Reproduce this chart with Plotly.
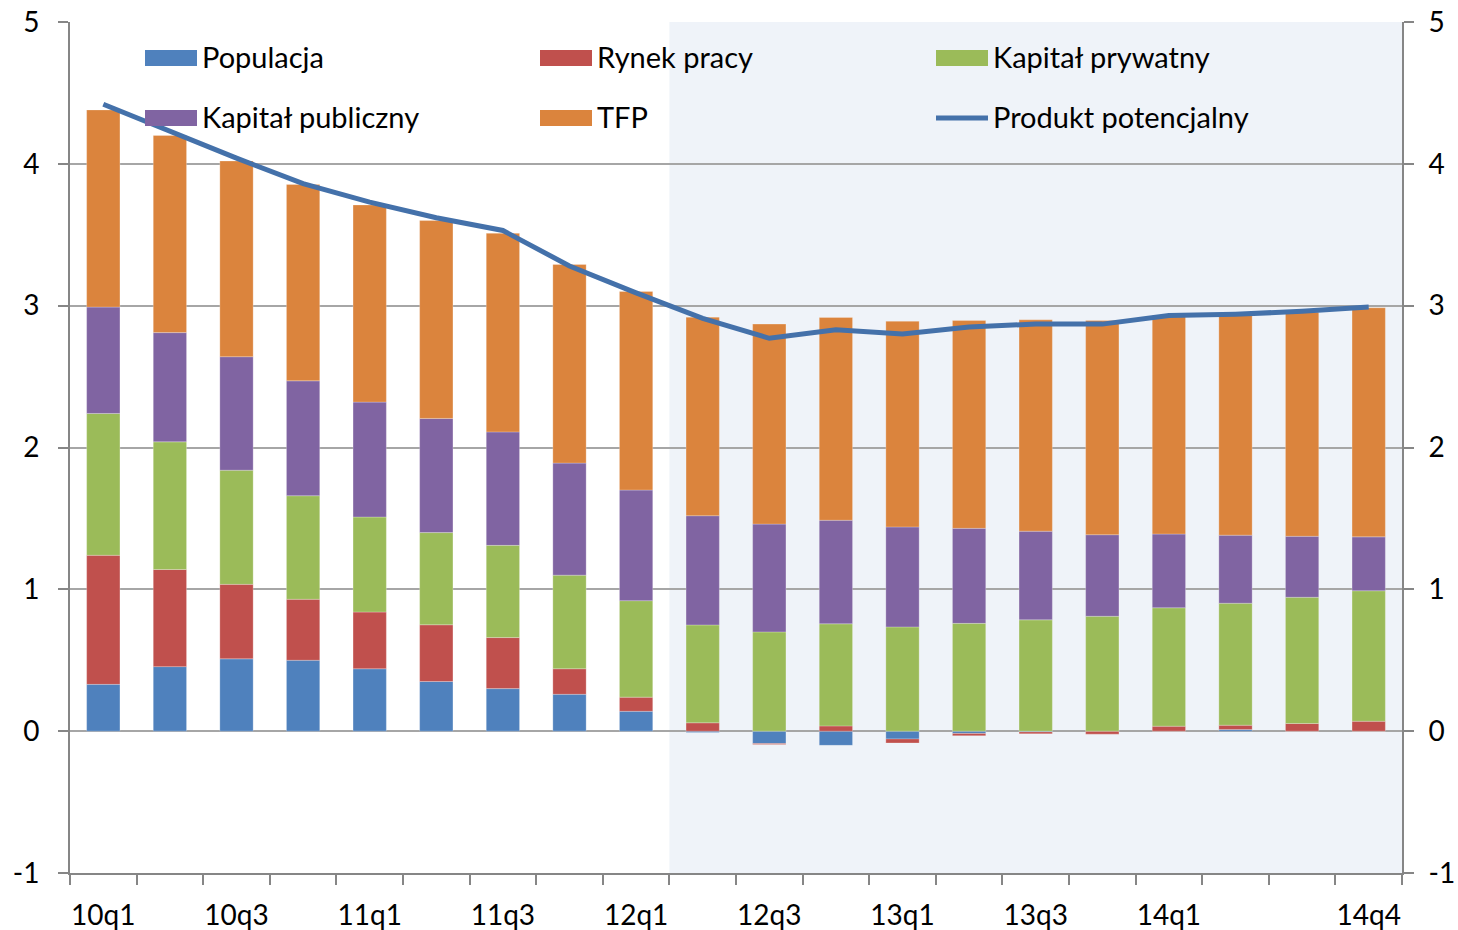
import plotly.graph_objects as go

categories = ['10q1', '10q2', '10q3', '10q4', '11q1', '11q2', '11q3', '11q4',
              '12q1', '12q2', '12q3', '12q4', '13q1', '13q2', '13q3', '13q4',
              '14q1', '14q2', '14q3', '14q4']
tick_labels = ['10q1', '', '10q3', '', '11q1', '', '11q3', '', '12q1', '',
               '12q3', '', '13q1', '', '13q3', '', '14q1', '', '', '14q4']
y_tick_vals = [-1, 0, 1, 2, 3, 4, 5]
y_tick_text = ['-1', '0', '1', '2', '3', '4', '5']

populacja = [0.33, 0.455, 0.51, 0.50, 0.44, 0.35, 0.30, 0.26, 0.14, -0.01,
             -0.087, -0.10, -0.055, -0.016, -0.005, 0.0, 0.0, 0.012, 0.0, 0.0]
rynek_pracy = [0.91, 0.685, 0.525, 0.43, 0.40, 0.40, 0.36, 0.18, 0.10, 0.059,
               -0.007, 0.037, -0.028, -0.016, -0.014, -0.021, 0.035, 0.03, 0.054, 0.07]
kapital_prywatny = [1.00, 0.90, 0.805, 0.73, 0.67, 0.65, 0.65, 0.66, 0.68, 0.69,
                    0.70, 0.72, 0.735, 0.76, 0.785, 0.81, 0.835, 0.86, 0.89, 0.92]
kapital_publiczny = [0.75, 0.77, 0.80, 0.81, 0.81, 0.805, 0.80, 0.79, 0.78, 0.77,
                     0.76, 0.73, 0.705, 0.67, 0.625, 0.575, 0.52, 0.48, 0.43, 0.38]
tfp = [1.39, 1.39, 1.38, 1.385, 1.39, 1.395, 1.40, 1.40, 1.40, 1.40,
       1.41, 1.43, 1.45, 1.465, 1.49, 1.51, 1.54, 1.56, 1.58, 1.615]
produkt_potencjalny = [4.42, 4.23, 4.04, 3.86, 3.73, 3.62, 3.53, 3.28, 3.09, 2.91,
                       2.77, 2.83, 2.80, 2.85, 2.87, 2.87, 2.93, 2.94, 2.96, 2.99]

series = [
    ('Populacja', populacja, '#4F81BD'),
    ('Rynek pracy', rynek_pracy, '#C0504D'),
    ('Kapitał prywatny', kapital_prywatny, '#9BBB59'),
    ('Kapitał publiczny', kapital_publiczny, '#8064A2'),
    ('TFP', tfp, '#DB843D'),
]
line_color = '#4471AA'
font_family = 'Lato, "Noto Sans", sans-serif'
fs_leg = 29
fs_tick = 28

fig = go.Figure()
for name, vals, col in series:
    fig.add_trace(go.Bar(x=categories, y=vals, name=name, marker_color=col,
                         marker_line=dict(color='rgba(255,255,255,0.35)', width=0.7),
                         showlegend=False))
fig.add_trace(go.Scatter(x=categories, y=produkt_potencjalny, name='Produkt potencjalny',
                         mode='lines', line=dict(color=line_color, width=5),
                         yaxis='y2', showlegend=False))

# shaded forecast region (from 12q2 onward)
fig.add_shape(type='rect', xref='x', yref='paper', x0=8.5, x1=19.5, y0=0, y1=1,
              fillcolor='#EFF3F9', line_width=0, layer='below')

# manual legend
W, H = 1458, 930
L, R, T, B = 70, 56, 22, 57
pw, ph = W - L - R, H - T - B
def px(xp):
    return (xp - L) / pw
def py(yp):
    return (H - B - yp) / ph

legend_items = [
    ('Populacja', '#4F81BD', 145, 58, 'bar'),
    ('Rynek pracy', '#C0504D', 540, 58, 'bar'),
    ('Kapitał prywatny', '#9BBB59', 936, 58, 'bar'),
    ('Kapitał publiczny', '#8064A2', 145, 118, 'bar'),
    ('TFP', '#DB843D', 540, 118, 'bar'),
    ('Produkt potencjalny', line_color, 936, 118, 'line'),
]
for text, col, x0, yc, kind in legend_items:
    if kind == 'bar':
        fig.add_shape(type='rect', xref='paper', yref='paper',
                      x0=px(x0), x1=px(x0 + 52), y0=py(yc + 8), y1=py(yc - 8),
                      fillcolor=col, line_width=0)
    else:
        fig.add_shape(type='line', xref='paper', yref='paper',
                      x0=px(x0), x1=px(x0 + 52), y0=py(yc), y1=py(yc),
                      line=dict(color=col, width=5))
    fig.add_annotation(x=px(x0 + 55), y=py(yc - 1), xref='paper', yref='paper',
                       text=text, showarrow=False, xanchor='left', yanchor='middle',
                       font=dict(size=fs_leg, color='black', family=font_family))

axis_common = dict(range=[-1, 5], tickmode='array', tickvals=y_tick_vals, ticktext=y_tick_text,
                   showline=True, linecolor='#868686',
                   linewidth=2, ticks='outside', ticklen=10, tickwidth=1.5,
                   tickcolor='#868686', tickfont=dict(size=fs_tick, color='black', family=font_family),
                   zeroline=False, fixedrange=True, automargin=False)

fig.update_layout(
    width=W, height=H,
    margin=dict(l=L, r=R, t=T, b=B, autoexpand=False),
    paper_bgcolor='white', plot_bgcolor='white',
    barmode='relative', bargap=0.5,
    font=dict(family=font_family, size=fs_tick, color='black'),
    xaxis=dict(type='category', tickmode='array', tickvals=categories, ticktext=tick_labels,
               tickson='boundaries', ticks='outside', ticklen=10, tickwidth=1.5,
               tickcolor='#868686', showline=True, linecolor='#868686', linewidth=2,
               showgrid=False, range=[-0.5, 19.5], tickangle=0, automargin=False,
               ticklabelstandoff=16,
               tickfont=dict(size=fs_tick, color='black', family=font_family)),
    yaxis=dict(**axis_common, showgrid=True, gridcolor='#A6A6A6', gridwidth=1.5,
               ticklabelstandoff=13),
    yaxis2=dict(**axis_common, overlaying='y', side='right', showgrid=False,
                ticklabelstandoff=9),
)

fig.write_html('out.html', config={'displayModeBar': False},
               post_script="document.body.style.margin='0';document.body.style.padding='0';")
